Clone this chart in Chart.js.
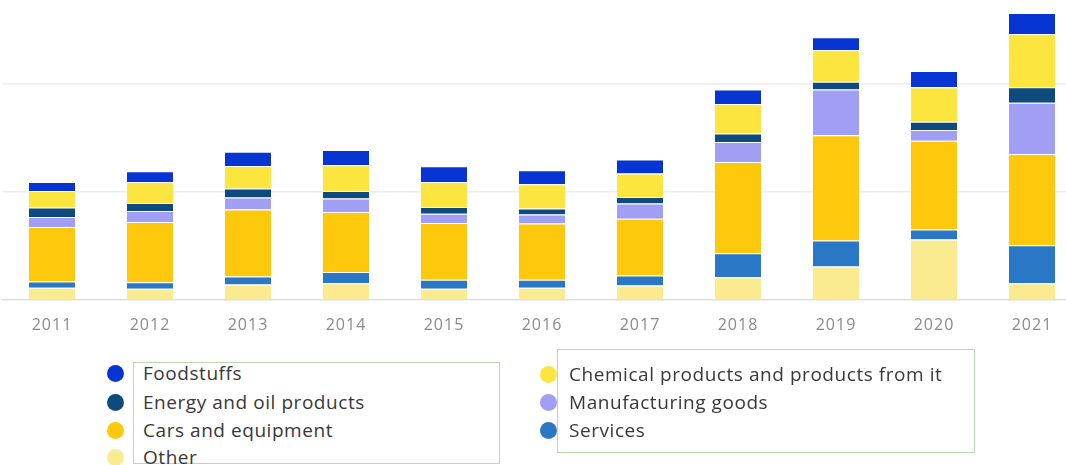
<!DOCTYPE html>
<html>
<head>
<meta charset="utf-8">
<script src="https://cdn.jsdelivr.net/npm/chart.js@4"></script>
<style>
  html, body { margin: 0; padding: 0; background: #fff; overflow: hidden; }
  body { width: 1066px; height: 465px; position: relative; }
  #chart-wrap { position: absolute; left: 0; top: 0; width: 1084px; height: 356px; }
  .legend-box { position: absolute; border: 1.5px solid #b9d8ab; box-sizing: border-box; }
  .legend-item {
    position: absolute; font-family: "Open Sans", sans-serif; font-size: 19px;
    letter-spacing: 0.55px; color: #383838; line-height: 22px; white-space: nowrap;
  }
  .dot { position: absolute; width: 17px; height: 17px; border-radius: 50%; }
</style>
</head>
<body>
<div id="chart-wrap"><canvas id="exportsChart"></canvas></div>
<div id="legend"></div>
<script>
(() => {
  'use strict'

  // Years on the x axis
  const years = ['2011', '2012', '2013', '2014', '2015', '2016', '2017', '2018', '2019', '2020', '2021'];

  // Segment values per year, bottom to top of each stack
  const other         = [11.1, 10.2, 14.2, 15.4, 10.2, 11.1, 13.2, 20.9, 30.8, 55.6, 15.4];
  const services      = [5.8, 6.1, 7.4, 10.2, 8.3, 7.4, 9.3, 22.2, 24.1, 9.3, 34.9];
  const cars          = [50.3, 55.6, 61.8, 55.6, 52.4, 51.9, 52.5, 84.3, 97.2, 82.0, 84.3];
  const manufacturing = [9.3, 10.2, 11.1, 12.4, 8.7, 8.3, 13.9, 18.5, 42.3, 9.9, 47.5];
  const energy        = [8.7, 7.4, 8.3, 7.0, 6.1, 5.6, 6.1, 7.8, 7.0, 7.7, 14.3];
  const chemical      = [15.4, 19.4, 20.9, 23.8, 23.1, 22.5, 21.7, 27.1, 29.4, 31.9, 49.1];
  const foodstuffs    = [8.3, 9.9, 13.0, 13.9, 14.5, 13.0, 13.0, 13.6, 11.8, 15.1, 19.4];

  const colors = {
    foodstuffs: '#0635d3',
    energy: '#0f4a7e',
    cars: '#fec80c',
    other: '#fbeb90',
    chemical: '#fde540',
    manufacturing: '#a09ff3',
    services: '#2a77c6'
  };

  const series = [
    { label: 'Other', data: other, color: colors.other },
    { label: 'Services', data: services, color: colors.services },
    { label: 'Cars and equipment', data: cars, color: colors.cars },
    { label: 'Manufacturing goods', data: manufacturing, color: colors.manufacturing },
    { label: 'Energy and oil products', data: energy, color: colors.energy },
    { label: 'Chemical products and products from it', data: chemical, color: colors.chemical },
    { label: 'Foodstuffs', data: foodstuffs, color: colors.foodstuffs }
  ];

  // spaced-out year labels
  const letterSpacing = {
    id: 'letterSpacing',
    beforeDraw(chart) { chart.ctx.letterSpacing = '1px'; }
  };

  new Chart(document.getElementById('exportsChart'), {
    type: 'bar',
    data: {
      labels: years,
      datasets: series.map(s => ({
        label: s.label,
        data: s.data,
        backgroundColor: s.color,
        borderColor: '#ffffff',
        borderWidth: { top: 1, right: 0, bottom: 0, left: 0 },
        barPercentage: 0.47,
        categoryPercentage: 1
      }))
    },
    plugins: [letterSpacing],
    options: {
      responsive: true,
      maintainAspectRatio: false,
      animation: false,
      layout: { padding: { left: 3, right: 3, top: 0, bottom: 5 } },
      plugins: {
        legend: { display: false },
        tooltip: { enabled: false }
      },
      scales: {
        x: {
          stacked: true,
          grid: { display: false, drawTicks: false },
          border: { display: true, color: '#dcdfe8', width: 1.5 },
          ticks: {
            color: '#8a8a8a',
            padding: 16,
            font: { family: '"Open Sans", sans-serif', size: 16 }
          }
        },
        y: {
          stacked: true,
          min: 0,
          max: 277,
          border: { display: false },
          grid: {
            drawTicks: false,
            color: ctx => (ctx.tick.value > 0 && ctx.tick.value % 100 === 0) ? '#ececec' : 'rgba(0,0,0,0)',
            lineWidth: 1.5
          },
          ticks: { display: false, stepSize: 100 }
        }
      }
    }
  });

  // Two framed legend groups below the chart
  const legendGroups = [
    {
      box: { left: 133, top: 362, width: 367, height: 102 },
      dotX: 107, textX: 143,
      items: [
        ['Foodstuffs', colors.foodstuffs, 373],
        ['Energy and oil products', colors.energy, 402],
        ['Cars and equipment', colors.cars, 430],
        ['Other', colors.other, 457]
      ]
    },
    {
      box: { left: 557, top: 349, width: 418, height: 104 },
      dotX: 540, textX: 569,
      items: [
        ['Chemical products and products from it', colors.chemical, 374],
        ['Manufacturing goods', colors.manufacturing, 402],
        ['Services', colors.services, 430]
      ]
    }
  ];

  const legend = document.getElementById('legend');
  legendGroups.forEach(g => {
    const box = document.createElement('div');
    box.className = 'legend-box';
    Object.assign(box.style, {
      left: g.box.left + 'px', top: g.box.top + 'px',
      width: g.box.width + 'px', height: g.box.height + 'px'
    });
    legend.appendChild(box);

    g.items.forEach(([text, color, cy]) => {
      const dot = document.createElement('div');
      dot.className = 'dot';
      dot.style.background = color;
      dot.style.left = g.dotX + 'px';
      dot.style.top = (cy - 8.5) + 'px';
      legend.appendChild(dot);

      const label = document.createElement('div');
      label.className = 'legend-item';
      label.textContent = text;
      label.style.left = g.textX + 'px';
      label.style.top = (cy - 11) + 'px';
      legend.appendChild(label);
    });
  });
})();
</script>
</body>
</html>
